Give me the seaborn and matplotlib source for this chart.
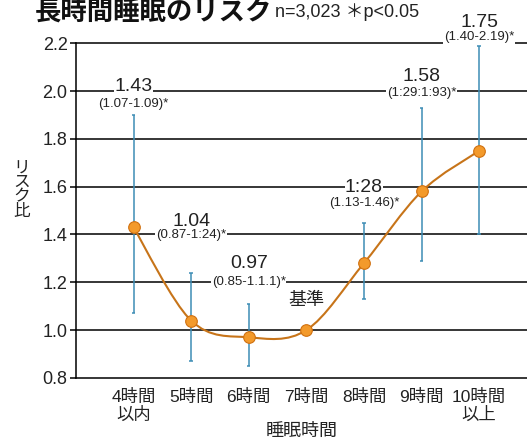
import numpy as np
import pandas as pd
import seaborn as sns
import matplotlib.pyplot as plt
from matplotlib.path import Path
from matplotlib.patches import PathPatch

categories = ['4時間\n以内', '5時間', '6時間', '7時間', '8時間', '9時間', '10時間\n以上']
risk = [1.43, 1.04, 0.97, 1.00, 1.28, 1.58, 1.75]
ci_low = [1.07, 0.87, 0.85, np.nan, 1.13, 1.29, 1.40]
ci_high = [1.90, 1.24, 1.11, np.nan, 1.45, 1.93, 2.19]
value_labels = ['1.43', '1.04', '0.97', '', '1:28', '1.58', '1.75']
ci_labels = ['(1.07-1.09)*', '(0.87-1:24)*', '(0.85-1.1.1)*', '', '(1.13-1.46)*',
             '(1:29:1:93)*', '(1.40-2.19)*']
yticks = [0.8, 1.0, 1.2, 1.4, 1.6, 1.8, 2.0, 2.2]

df = pd.DataFrame({'pos': range(len(categories)), 'risk': risk,
                   'lo': ci_low, 'hi': ci_high})

sns.set_theme(style='white')
plt.rcParams['font.family'] = ['Liberation Sans', 'Noto Sans CJK JP', 'DejaVu Sans']

fig = plt.figure(figsize=(5.27, 4.41), dpi=100)
ax = fig.add_axes([0.144, 0.143, 0.856, 0.759])

for y in yticks:
    ax.axhline(y, color='black', lw=1.1, zorder=1, clip_on=False)

# confidence intervals
ci = df.dropna()
ax.vlines(ci['pos'], ci['lo'], ci['hi'], color='#3d8db5', lw=1.1, zorder=2)
ax.hlines(ci['lo'], ci['pos'] - 0.03, ci['pos'] + 0.03, color='#3d8db5', lw=1.1, zorder=2)
ax.hlines(ci['hi'], ci['pos'] - 0.03, ci['pos'] + 0.03, color='#3d8db5', lw=1.1, zorder=2)

# smooth curve through the points (Catmull-Rom as cubic Bezier)
pts = df[['pos', 'risk']].to_numpy()
ext = np.vstack([pts[0], pts, pts[-1]])
verts = [pts[0]]
codes = [Path.MOVETO]
for i in range(1, len(ext) - 2):
    p0, p1, p2, p3 = ext[i - 1], ext[i], ext[i + 1], ext[i + 2]
    verts += [p1 + (p2 - p0) / 6, p2 - (p3 - p1) / 6, p2]
    codes += [Path.CURVE4] * 3
ax.add_patch(PathPatch(Path(verts, codes), fill=False, edgecolor='#c77419',
                       lw=1.5, zorder=3))

sns.scatterplot(data=df, x='pos', y='risk', ax=ax, s=70, color='#f39a2b',
                edgecolor='#d0700f', linewidth=0.8, zorder=4)

# annotations: (value label y, CI label y) in data units
label_y = {0: (2.02, 1.946), 1: (1.455, 1.396), 2: (1.28, 1.20),
           4: (1.596, 1.53), 5: (2.06, 1.99), 6: (2.285, 2.225)}
for i, (vy, cy) in label_y.items():
    ax.text(i, vy, value_labels[i], ha='center', va='center',
            fontsize=14, color='#222222', zorder=5, clip_on=False,
            bbox=dict(facecolor='white', edgecolor='none', pad=0.2))
    ax.text(i, cy, ci_labels[i], ha='center', va='center',
            fontsize=9.5, color='#222222', zorder=5, clip_on=False,
            bbox=dict(facecolor='white', edgecolor='none', pad=0.5))
ax.text(3, 1.125, '基準', ha='center', va='center', fontsize=13, color='#222222')

ax.set_xlim(-1.0, 6.83)
ax.set_ylim(0.8, 2.2)
ax.set_yticks(yticks)
ax.set_yticklabels([f'{v:.1f}' for v in yticks], fontsize=13, color='#222222')
ax.set_xticks(range(len(categories)))
ax.set_xticklabels(categories, fontsize=12.5, color='#222222', linespacing=1.15)
ax.tick_params(axis='y', length=4, width=1.1, color='black', pad=2, left=True)
ax.tick_params(axis='x', length=0, pad=8)
ax.set_xlabel('睡眠時間', fontsize=13, color='#222222', labelpad=0)
ax.set_ylabel('')
for s in ['top', 'right', 'bottom']:
    ax.spines[s].set_visible(False)
ax.spines['left'].set_color('black')
ax.spines['left'].set_linewidth(1.1)

fig.text(0.042, 0.57, 'リ\nス\nク\n比', fontsize=12, ha='center', va='center',
         linespacing=0.95, color='#222222')
fig.text(0.066, 0.972, '長時間睡眠のリスク', fontsize=19, fontweight='bold',
         ha='left', va='center', color='#111111')
fig.text(0.522, 0.972, 'n=3,023 ＊p<0.05', fontsize=13, ha='left', va='center',
         color='#222222')

fig.savefig('out.png', dpi=100, facecolor='white')
